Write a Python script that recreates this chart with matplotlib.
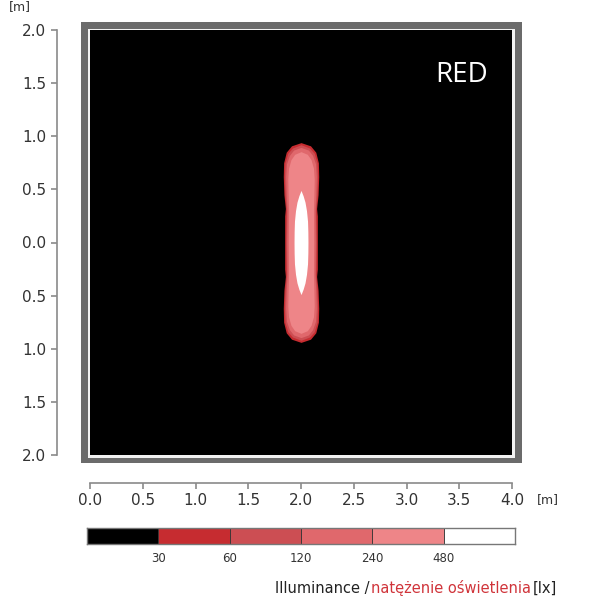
import numpy as np
import matplotlib
matplotlib.use("Agg")
import matplotlib.pyplot as plt
from matplotlib.patches import Rectangle

# -----------------------------
# Data
# -----------------------------
x_ticks = [0.0, 0.5, 1.0, 1.5, 2.0, 2.5, 3.0, 3.5, 4.0]
y_ticks = [-2.0, -1.5, -1.0, -0.5, 0.0, 0.5, 1.0, 1.5, 2.0]
y_tick_labels = ["2.0", "1.5", "1.0", "0.5", "0.0", "0.5", "1.0", "1.5", "2.0"]

lux_levels = [30, 60, 120, 240, 480]
level_colors = ["#000000", "#c62c30", "#cc4e53", "#e0686c", "#ee8588", "#ffffff"]

spot_x = 2.0
# iso-lux outlines: y (upper half) and half-width, mirrored below
iso_y = {
    30:  [0.0, 0.25, 0.32, 0.45, 0.62, 0.75, 0.85, 0.91, 0.94],
    60:  [0.0, 0.30, 0.45, 0.62, 0.75, 0.84, 0.89, 0.92],
    120: [0.0, 0.30, 0.45, 0.62, 0.74, 0.82, 0.87, 0.895],
    240: [0.0, 0.30, 0.45, 0.60, 0.70, 0.78, 0.83, 0.855],
    480: [0.0, 0.10, 0.20, 0.30, 0.38, 0.44, 0.49],
}
iso_hw = {
    30:  [0.155, 0.155, 0.148, 0.162, 0.168, 0.165, 0.14, 0.09, 0.0],
    60:  [0.145, 0.140, 0.152, 0.158, 0.152, 0.125, 0.08, 0.0],
    120: [0.135, 0.132, 0.140, 0.145, 0.138, 0.110, 0.07, 0.0],
    240: [0.120, 0.118, 0.122, 0.125, 0.118, 0.095, 0.06, 0.0],
    480: [0.066, 0.065, 0.062, 0.052, 0.038, 0.02, 0.0],
}

title_text = "RED"

# -----------------------------
# Figure
# -----------------------------
plt.rcParams["font.family"] = ["DejaVu Sans"]
fig = plt.figure(figsize=(6, 6), dpi=100)
W, H = 600.0, 600.0

def fbox(x0, y0, x1, y1):
    # pixel box (top-left origin) -> figure fraction
    return [x0 / W, 1 - y1 / H, (x1 - x0) / W, (y1 - y0) / H]

# gray frame + thin white line
for (x0, y0, x1, y1), c in [((81, 22, 522, 463), "#6b6b6b"), ((88, 29, 515, 458), "#f2f2f2")]:
    b = fbox(x0, y0, x1, y1)
    fig.add_artist(Rectangle((b[0], b[1]), b[2], b[3], transform=fig.transFigure,
                             facecolor=c, edgecolor="none", zorder=-2))

ax = fig.add_axes(fbox(90, 30, 512, 455))
ax.set_facecolor("black")
ax.set_xlim(0, 4)
ax.set_ylim(-2, 2)

for lvl, col in zip(lux_levels, level_colors[1:]):
    y = np.array(iso_y[lvl])
    hw = np.array(iso_hw[lvl])
    y_full = np.concatenate([-y[::-1], y[1:]])
    hw_full = np.concatenate([hw[::-1], hw[1:]])
    ax.fill_betweenx(y_full, spot_x - hw_full, spot_x + hw_full, color=col, lw=0)

ax.text(0.88, 0.895, title_text, transform=ax.transAxes, color="white",
        fontsize=20, ha="center", va="center", family="Open Sans")

# axes styling
for s in ["top", "right"]:
    ax.spines[s].set_visible(False)
ax.spines["left"].set_position(("outward", 24))
ax.spines["bottom"].set_position(("outward", 20))
ax.spines["left"].set_color("#8a8a8a")
ax.spines["bottom"].set_color("#8a8a8a")
ax.spines["left"].set_linewidth(1.2)
ax.spines["bottom"].set_linewidth(1.2)
ax.set_xticks(x_ticks)
ax.set_xticklabels([f"{v:.1f}" for v in x_ticks])
ax.set_yticks(y_ticks)
ax.set_yticklabels(y_tick_labels)
ax.tick_params(colors="#8a8a8a", labelcolor="#333333", labelsize=11, length=4, width=1.2)

fig.text(20 / W, 1 - 7 / H, "[m]", fontsize=9, color="#333333", ha="center", va="center")
fig.text(548 / W, 1 - 500 / H, "[m]", fontsize=9, color="#333333", ha="center", va="center")

# -----------------------------
# Legend bar
# -----------------------------
cax = fig.add_axes(fbox(87, 528, 515, 544))
for i, col in enumerate(level_colors):
    cax.add_patch(Rectangle((i, 0), 1, 1, facecolor=col, edgecolor="#333333", lw=0.6))
cax.set_xlim(0, len(level_colors))
cax.set_ylim(0, 1)
cax.set_yticks([])
cax.set_xticks(range(1, len(level_colors)))
cax.set_xticklabels([str(v) for v in lux_levels])
cax.tick_params(length=0, labelsize=8.5, labelcolor="#333333", pad=6)
for s in cax.spines.values():
    s.set_color("#777777")
    s.set_linewidth(1.0)

# caption, built right to left
ty = 1 - 588 / H
t1 = fig.text(557 / W, ty, "[lx]", fontsize=10.5, color="#222222", ha="right", va="center")
t2 = plt.annotate("natężenie oświetlenia", xy=(0, 0.5), xycoords=t1, xytext=(-1, 0),
                  textcoords="offset points", fontsize=10.5, color="#d0343a", ha="right", va="center")
t3 = plt.annotate("Illuminance /", xy=(0, 0.5), xycoords=t2, xytext=(-1, 0),
                  textcoords="offset points", fontsize=10.5, color="#222222", ha="right", va="center")

fig.savefig("out.png", dpi=100)
